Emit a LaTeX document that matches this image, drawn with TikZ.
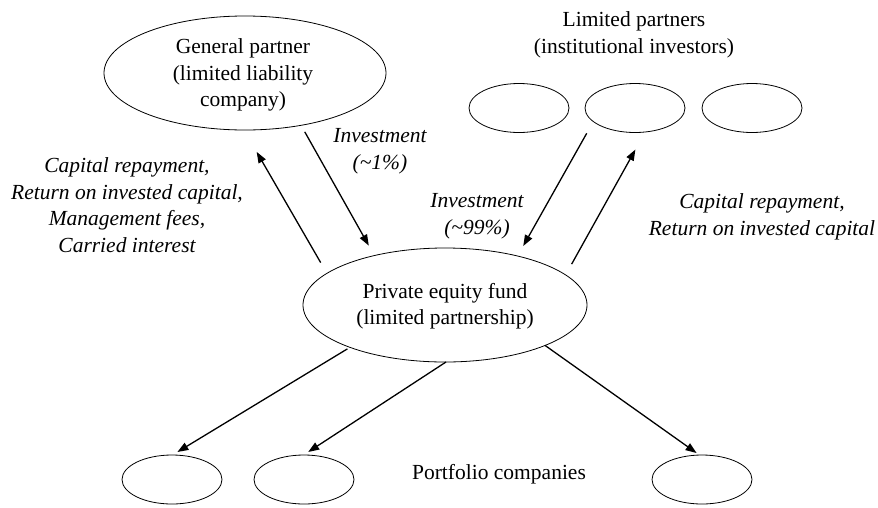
\documentclass[tikz,border=0pt]{standalone}
\usepackage{fontspec}
\setmainfont{Liberation Serif}
\usetikzlibrary{shapes.geometric,arrows.meta}
\begin{document}
\begin{tikzpicture}[x=1pt,y=-1pt,
  oval/.style={draw, ellipse, line width=0.8pt, inner sep=0pt, outer sep=0pt},
  small/.style={oval, minimum width=100pt, minimum height=49pt},
  lbl/.style={align=center, font=\fontsize{21.5}{26.5}\selectfont, inner sep=0pt},
  ilbl/.style={align=center, font=\fontsize{21.5}{26.7}\selectfont\itshape, inner sep=0pt},
  arr/.style={-{Triangle[length=11pt,width=8pt]}, line width=1.3pt}]
\useasboundingbox (0,0) rectangle (878,507);
% ellipses
\node[oval, minimum width=282pt, minimum height=114pt] (gp) at (245,73) {};
\node[oval, minimum width=284pt, minimum height=114pt] (pe) at (445,305) {};
\node[small] (lp1) at (519,108) {};
\node[small] (lp2) at (635,108) {};
\node[small] (lp3) at (752,108) {};
\node[small] (pc1) at (172,479.5) {};
\node[small] (pc2) at (304,479.5) {};
\node[small] (pc3) at (702,479.5) {};
% texts
\node[lbl] (gptext) at (243,75) {General partner\\(limited liability\\company)};
\node[lbl] (lptitle) at (634,35) {Limited partners\\(institutional investors)};
\node[lbl] (petext) at (445,306) {Private equity fund\\(limited partnership)};
\node[lbl] (pctitle) at (499,474) {Portfolio companies};
\node[ilbl] (inv1) at (380,151.5) {Investment\\(\textasciitilde 1\%)};
\node[ilbl] (inv99) at (477,216.5) {Investment\\(\textasciitilde 99\%)};
\node[ilbl] (retgp) at (127,205) {Capital repayment,\\Return on invested capital,\\Management fees,\\Carried interest};
\node[ilbl] (retlp) at (762,216.5) {Capital repayment,\\Return on invested capital};
% connectors
\draw[arr, shorten <=7.5pt, shorten >=11.4pt] (gp.-43.5) -- (pe.145.9);
\draw[arr, shorten <=12.4pt, shorten >=25.3pt] (pe.165.2) -- (gp.-91.6);
\draw[arr, shorten <=13.5pt, shorten >=11.5pt] (lp2.-162.7) -- (pe.34.1);
\draw[arr, shorten <=12.4pt, shorten >=20.1pt] (pe.14.7) -- (lp2.-67.9);
\draw[arr, shorten <=2.9pt, shorten >=5.8pt] (pe.-156.9) -- (pc1.89.8);
\draw[arr, shorten >=5.5pt] (pe.-89) -- (pc2.91);
\draw[arr, shorten >=3.5pt] (pe.-22.5) -- (pc3.96);
\end{tikzpicture}
\end{document}
